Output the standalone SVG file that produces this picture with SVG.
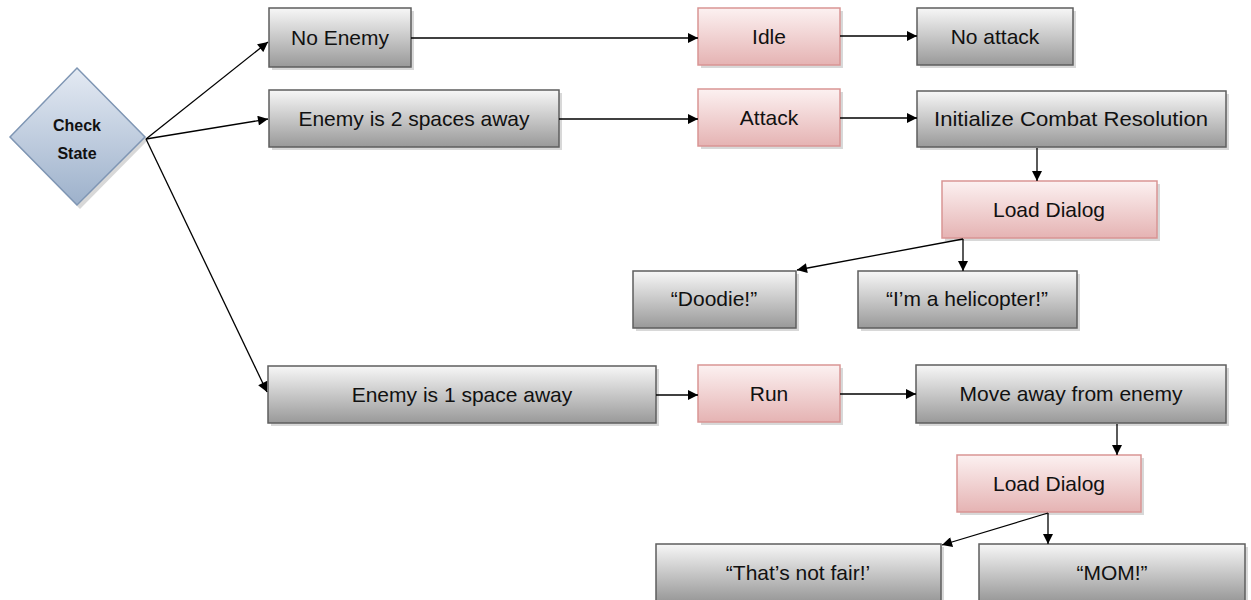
<svg xmlns="http://www.w3.org/2000/svg" width="1251" height="600" viewBox="0 0 1251 600">
<defs>
<linearGradient id="gGrey" x1="0" y1="0" x2="0" y2="1">
<stop offset="0" stop-color="#f7f7f7"/>
<stop offset="1" stop-color="#999999"/>
</linearGradient>
<linearGradient id="gPink" x1="0" y1="0" x2="0" y2="1">
<stop offset="0" stop-color="#fcf1f1"/>
<stop offset="1" stop-color="#e5b3b3"/>
</linearGradient>
<linearGradient id="gBlue" x1="0" y1="0" x2="0" y2="1">
<stop offset="0" stop-color="#e4eaf3"/>
<stop offset="1" stop-color="#9db1cb"/>
</linearGradient>
<marker id="arr" viewBox="0 0 10 10" refX="10" refY="5" markerWidth="11" markerHeight="10" markerUnits="userSpaceOnUse" orient="auto">
<path d="M0,0 L10,5 L0,10 z" fill="#000"/>
</marker>
</defs>
<style>
.sh{fill:#c8c8c8;opacity:0.7}
.grey{fill:url(#gGrey);stroke:#5e5e5e;stroke-width:1.5}
.pink{fill:url(#gPink);stroke:#d99594;stroke-width:1.5}
.dia{fill:url(#gBlue);stroke:#7f96b4;stroke-width:1.5}
.t{font-family:"Liberation Sans",Arial,sans-serif;font-size:21px;fill:#111;text-anchor:middle}
.tb{font-family:"Liberation Sans",Arial,sans-serif;font-size:16px;font-weight:bold;fill:#111;text-anchor:middle}
.c{stroke:#000;stroke-width:1.3;fill:none;marker-end:url(#arr)}
</style>
<rect width="1251" height="600" fill="#fff"/>

<g id="check-state">
<polygon class="sh" points="80,71 148,140 80,209 12,140"/>
<polygon class="dia" points="77,68 145,137 77,205 10,137"/>
<text class="tb" x="77" y="131">Check</text>
<text class="tb" x="77" y="159">State</text>
</g>

<g id="no-enemy">
<rect class="sh" x="272" y="11" width="142" height="59"/>
<rect class="grey" x="269" y="8" width="142" height="59"/>
<text class="t" x="340" y="45">No Enemy</text>
</g>
<g id="enemy-2">
<rect class="sh" x="272" y="93" width="290" height="57"/>
<rect class="grey" x="269" y="90" width="290" height="57"/>
<text class="t" x="414" y="126">Enemy is 2 spaces away</text>
</g>
<g id="idle">
<rect class="sh" x="701" y="11" width="142" height="57"/>
<rect class="pink" x="698" y="8" width="142" height="57"/>
<text class="t" x="769" y="44">Idle</text>
</g>
<g id="attack">
<rect class="sh" x="701" y="92" width="142" height="57"/>
<rect class="pink" x="698" y="89" width="142" height="57"/>
<text class="t" x="769" y="125">Attack</text>
</g>
<g id="no-attack">
<rect class="sh" x="920" y="11" width="156" height="57"/>
<rect class="grey" x="917" y="8" width="156" height="57"/>
<text class="t" x="995" y="44">No attack</text>
</g>
<g id="init-combat">
<rect class="sh" x="920" y="94" width="309" height="56"/>
<rect class="grey" x="917" y="91" width="309" height="56"/>
<text class="t" x="1071" y="126" textLength="274" lengthAdjust="spacingAndGlyphs">Initialize Combat Resolution</text>
</g>
<g id="load-dialog-1">
<rect class="sh" x="945" y="184" width="215" height="57"/>
<rect class="pink" x="942" y="181" width="215" height="57"/>
<text class="t" x="1049" y="217">Load Dialog</text>
</g>
<g id="doodie">
<rect class="sh" x="636" y="274" width="163" height="57"/>
<rect class="grey" x="633" y="271" width="163" height="57"/>
<text class="t" x="714" y="306">“Doodie!”</text>
</g>
<g id="helicopter">
<rect class="sh" x="861" y="274" width="219" height="57"/>
<rect class="grey" x="858" y="271" width="219" height="57"/>
<text class="t" x="967" y="306">“I’m a helicopter!”</text>
</g>
<g id="enemy-1">
<rect class="sh" x="271" y="369" width="388" height="57"/>
<rect class="grey" x="268" y="366" width="388" height="57"/>
<text class="t" x="462" y="402">Enemy is 1 space away</text>
</g>
<g id="run">
<rect class="sh" x="701" y="368" width="142" height="57"/>
<rect class="pink" x="698" y="365" width="142" height="57"/>
<text class="t" x="769" y="401">Run</text>
</g>
<g id="move-away">
<rect class="sh" x="919" y="368" width="310" height="58"/>
<rect class="grey" x="916" y="365" width="310" height="58"/>
<text class="t" x="1071" y="401">Move away from enemy</text>
</g>
<g id="load-dialog-2">
<rect class="sh" x="960" y="458" width="184" height="57"/>
<rect class="pink" x="957" y="455" width="184" height="57"/>
<text class="t" x="1049" y="491">Load Dialog</text>
</g>
<g id="not-fair">
<rect class="sh" x="659" y="547" width="285" height="57"/>
<rect class="grey" x="656" y="544" width="285" height="57"/>
<text class="t" x="798" y="580">“That’s not fair!’</text>
</g>
<g id="mom">
<rect class="sh" x="982" y="547" width="266" height="57"/>
<rect class="grey" x="979" y="544" width="266" height="57"/>
<text class="t" x="1112" y="580">“MOM!”</text>
</g>

<g id="connectors">
<line class="c" x1="146" y1="139" x2="268" y2="42"/>
<line class="c" x1="146" y1="139" x2="268" y2="119"/>
<line class="c" x1="146" y1="139" x2="267" y2="392"/>
<line class="c" x1="411" y1="38" x2="698" y2="38"/>
<line class="c" x1="559" y1="119" x2="698" y2="119"/>
<line class="c" x1="840" y1="36" x2="917" y2="36"/>
<line class="c" x1="840" y1="118" x2="917" y2="118"/>
<line class="c" x1="1037" y1="148" x2="1037" y2="181"/>
<line class="c" x1="963" y1="239" x2="963" y2="271"/>
<line class="c" x1="963" y1="239" x2="797" y2="270"/>
<line class="c" x1="656" y1="395" x2="698" y2="395"/>
<line class="c" x1="840" y1="394" x2="916" y2="394"/>
<line class="c" x1="1117" y1="424" x2="1117" y2="455"/>
<line class="c" x1="1048" y1="513" x2="1048" y2="544"/>
<line class="c" x1="1048" y1="513" x2="942" y2="545"/>
</g>
</svg>
